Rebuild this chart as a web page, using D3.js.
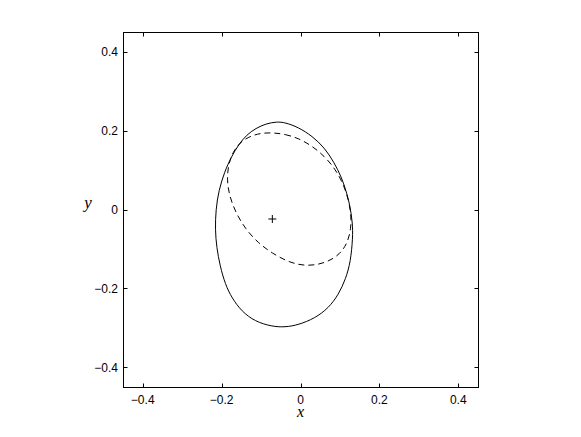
<!DOCTYPE html>
<html><head><meta charset="utf-8">
<script src="https://cdn.jsdelivr.net/npm/d3@7"></script>
<style>body{margin:0;background:#fff}svg{display:block}</style>
</head><body>
<svg id="c" width="581" height="437"></svg>
<script>
const tickValues = [-0.4, -0.2, 0, 0.2, 0.4];
const tickLabels = ["\u22120.4", "\u22120.2", "0", "0.2", "0.4"];
// solid contour, read clockwise from the top (pixel readings converted to data units)
const solidPx = [[276.7,122.0],[285,122.8],[298.3,127.5],[312.3,136.5],[324.5,148],[334,162.5],[341.5,177.5],[346,191],[349.6,204],[352.6,223],[352.8,238],[350.6,262],[345.8,279],[338.5,295],[328.5,308.3],[315,318.5],[298.3,325.2],[285,327.5],[271.7,326.8],[255,321.7],[241.7,311.7],[231.9,298.3],[225.2,284.5],[220,266],[216.6,247.5],[215.2,230],[215.8,210],[218.8,190.5],[224.6,172],[231.4,157],[238.6,145],[246.5,135.2],[256,128.5],[266,124]];
const dashPx = [[273,133],[285,134.5],[298.3,138.5],[311.7,146],[324.5,156.5],[335,169],[343.3,184],[348.5,200],[351.2,215],[351.0,229],[347.6,243],[340,254.5],[326.7,263],[308.3,266.7],[290,263.3],[271.7,253.3],[258.3,243.3],[245.5,229.5],[235.5,212.5],[229.2,195.5],[227,180],[228.3,165],[232.8,152.5],[240,142.5],[251,136],[262,133.3]];
const pxToX = p => (p - 300.5) / 394.4;
const pxToY = p => (209.8 - p) / 394.4;
const solidX = solidPx.map(d => pxToX(d[0]));
const solidY = solidPx.map(d => pxToY(d[1]));
const dashX = dashPx.map(d => pxToX(d[0]));
const dashY = dashPx.map(d => pxToY(d[1]));
const centerPoint = [-0.0714, -0.0241];

const L = 123, R = 478, T = 32, B = 387;
const x = d3.scaleLinear().domain([-0.45, 0.45]).range([L, R]);
const y = d3.scaleLinear().domain([-0.45, 0.45]).range([B, T]);
const svg = d3.select("#c");
const font = "'Liberation Sans', Arial, Helvetica, sans-serif";

const g = svg.append("g");
g.append("rect").attr("x", L + 0.5).attr("y", T + 0.5).attr("width", R - L).attr("height", B - T)
  .attr("fill", "none").attr("stroke", "#000").attr("stroke-width", 1);

const tl = 4;
tickValues.forEach((v, i) => {
  const px = Math.round(x(v)) + 0.5, py = Math.round(y(v)) + 0.5;
  g.append("line").attr("x1", px).attr("x2", px).attr("y1", B + 0.5).attr("y2", B + 0.5 - tl).attr("stroke", "#000");
  g.append("line").attr("x1", px).attr("x2", px).attr("y1", T + 0.5).attr("y2", T + 0.5 + tl).attr("stroke", "#000");
  g.append("line").attr("y1", py).attr("y2", py).attr("x1", L + 0.5).attr("x2", L + 0.5 + tl).attr("stroke", "#000");
  g.append("line").attr("y1", py).attr("y2", py).attr("x1", R + 0.5).attr("x2", R + 0.5 - tl).attr("stroke", "#000");
  g.append("text").attr("x", x(v)).attr("y", B + 17).attr("text-anchor", "middle")
    .attr("font-family", font).attr("font-size", 12).text(tickLabels[i]);
  g.append("text").attr("x", L - 5).attr("y", y(v) + 4.5).attr("text-anchor", "end")
    .attr("font-family", font).attr("font-size", 12).text(tickLabels[i]);
});

svg.append("text").attr("x", x(0)).attr("y", B + 30).attr("text-anchor", "middle")
  .attr("font-family", "'Liberation Serif', 'Times New Roman', serif").attr("font-style", "italic")
  .attr("font-size", 16).text("x");
svg.append("text").attr("x", 88).attr("y", y(0) - 2).attr("text-anchor", "middle")
  .attr("font-family", "'Liberation Serif', 'Times New Roman', serif").attr("font-style", "italic")
  .attr("font-size", 17).text("y");

const line = d3.line().x(d => x(d[0])).y(d => y(d[1])).curve(d3.curveBasisClosed);
const solid = solidX.map((v, i) => [v, solidY[i]]);
const dashed = dashX.map((v, i) => [v, dashY[i]]);
svg.append("path").attr("d", line(solid)).attr("fill", "none").attr("stroke", "#000").attr("stroke-width", 1);
svg.append("path").attr("d", line(dashed)).attr("fill", "none").attr("stroke", "#000").attr("stroke-width", 1)
  .attr("stroke-dasharray", "6,4");

const cx = x(centerPoint[0]), cy = y(centerPoint[1]);
svg.append("path").attr("d", `M${cx-4},${cy}H${cx+4}M${cx},${cy-4}V${cy+4}`).attr("stroke", "#000").attr("stroke-width", 1);
</script>
</body></html>
